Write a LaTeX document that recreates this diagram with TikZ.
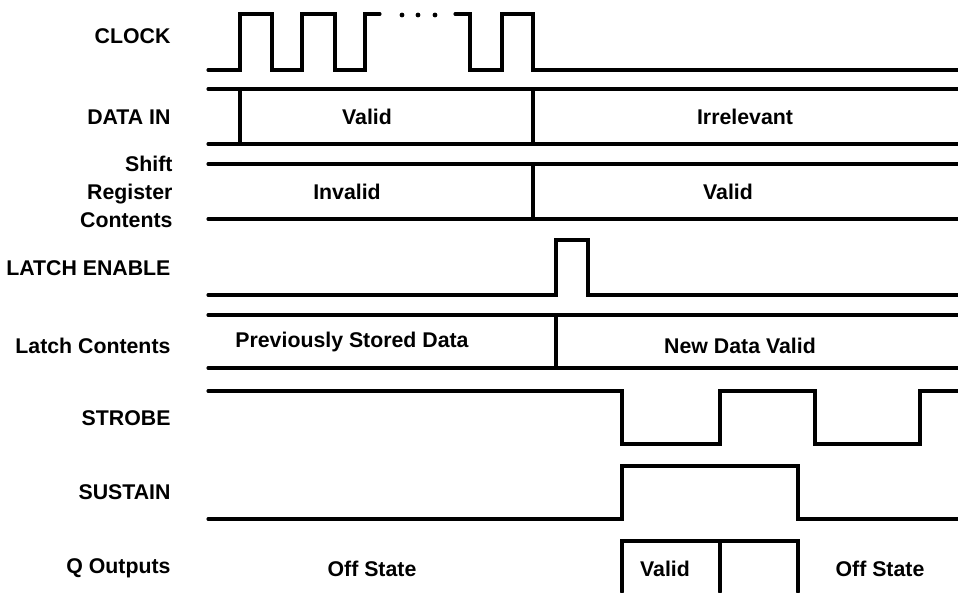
\documentclass[tikz,border=0pt]{standalone}
\usepackage{fontspec}
\setmainfont{Liberation Sans}
\tikzset{
    wave/.style={line width=3.1pt, line cap=round},
    sig/.style={anchor=east, align=right, font=\bfseries\fontsize{21.3}{28}\selectfont},
    val/.style={font=\bfseries\fontsize{21.3}{24}\selectfont}
}
\begin{document}
\begin{tikzpicture}[x=1pt,y=-1pt]
\useasboundingbox (0,0) rectangle (958,592);
\node[sig] (clk) at (174,36) {CLOCK};
\node[sig] (din) at (174,117) {DATA IN};
\node[sig] (sreg) at (176,192) {Shift\\Register\\Contents};
\node[sig] (le) at (174,268) {LATCH ENABLE};
\node[sig] (lc) at (174,346) {Latch Contents};
\node[sig] (stb) at (174,418) {STROBE};
\node[sig] (sus) at (174,492) {SUSTAIN};
\node[sig] (q) at (174,568) {Q Outputs};
\draw[wave] (208,70) -- (240,70) -- (240,14) -- (272,14) -- (272,70) -- (302,70) -- (302,14) -- (335,14) -- (335,70) -- (365,70) -- (365,14) -- (380,14);
\fill (402,15) circle (2.4) (418,15) circle (2.4) (435,15) circle (2.4);
\draw[wave] (455,14) -- (470,14) -- (470,70) -- (502,70) -- (502,14) -- (533,14) -- (533,70) -- (958,70);
\draw[wave] (208,89) -- (958,89);
\draw[wave] (208,144) -- (958,144);
\draw[wave] (240,89) -- (240,144);
\draw[wave] (533,89) -- (533,144);
\node[val] (dv) at (367,117) {Valid};
\node[val] (di) at (745,117) {Irrelevant};
\draw[wave] (208,164) -- (958,164);
\draw[wave] (208,219) -- (958,219);
\draw[wave] (533,164) -- (533,219);
\node[val] (si) at (347,192) {Invalid};
\node[val] (sv) at (728,192) {Valid};
\draw[wave] (208,295) -- (556,295) -- (556,240) -- (588,240) -- (588,295) -- (958,295);
\draw[wave] (208,315) -- (958,315);
\draw[wave] (208,368) -- (958,368);
\draw[wave] (556,315) -- (556,368);
\node[val] (lp) at (352,342) {Previously Stored Data};
\node[val] (ln) at (740,346) {New Data Valid};
\draw[wave] (208,391) -- (622,391) -- (622,444) -- (720,444) -- (720,391) -- (815,391) -- (815,444) -- (920,444) -- (920,391) -- (958,391);
\draw[wave] (208,519) -- (622,519) -- (622,466) -- (798,466) -- (798,519) -- (958,519);
\draw[wave] (622,592) -- (622,541) -- (798,541) -- (798,592);
\draw[wave] (720,541) -- (720,592);
\node[val] (qo) at (372,569) {Off State};
\node[val] (qv) at (665,569) {Valid};
\node[val] (qf) at (880,569) {Off State};
\end{tikzpicture}
\end{document}
